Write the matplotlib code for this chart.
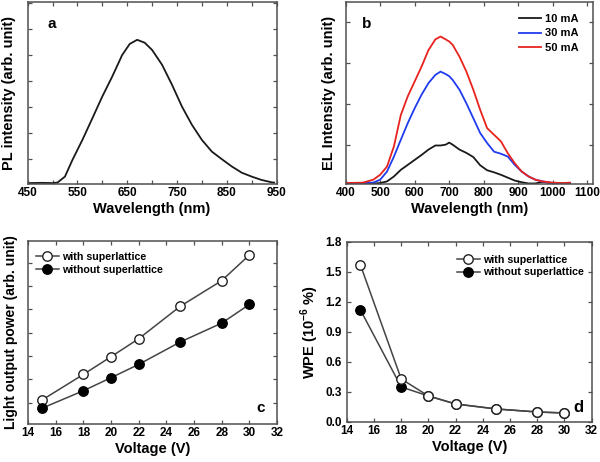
"""Four-panel figure: PL / EL spectra and light output / WPE vs voltage."""

import matplotlib.pyplot as plt
from matplotlib.ticker import MultipleLocator

plt.rcParams["font.family"] = ["Liberation Sans", "DejaVu Sans"]
plt.rcParams["font.weight"] = "bold"
plt.rcParams["axes.labelweight"] = "bold"
plt.rcParams["mathtext.fontset"] = "custom"
plt.rcParams["mathtext.bf"] = "Liberation Sans:bold"
plt.rcParams["mathtext.rm"] = "Liberation Sans:bold"

# panel a: PL spectrum
pl_wl = [450, 480, 500, 510, 525, 540, 560, 580, 600, 620, 640, 655, 670,
         685, 700, 720, 740, 760, 780, 800, 820, 840, 860, 880, 900, 920, 940, 945]
pl_int = [0.07, 0.08, 0.07, 0.09, 0.32, 0.96, 1.73, 2.56, 3.40, 4.17, 5.00, 5.42, 5.58,
          5.47, 5.19, 4.62, 3.85, 3.01, 2.31, 1.73, 1.28, 0.99, 0.71, 0.47, 0.32, 0.19, 0.10, 0.09]

# panel b: EL spectra at three currents
el_wl = [400, 450, 480, 500, 520, 540, 560, 580, 600, 620, 640, 660, 675, 690, 700,
         710, 730, 750, 770, 790, 810, 830, 850, 870, 890, 910, 930, 950, 970, 1000, 1030, 1050]
el_10 = [0.08, 0.08, 0.08, 0.09, 0.13, 0.25, 0.41, 0.53, 0.65, 0.77, 0.90, 1.00, 1.00, 1.02, 1.07,
         1.02, 0.90, 0.82, 0.72, 0.52, 0.40, 0.35, 0.29, 0.22, 0.15, 0.11, 0.08, 0.08, 0.12, 0.08, 0.08, 0.08]
el_30 = [0.08, 0.09, 0.10, 0.17, 0.37, 0.73, 1.14, 1.54, 1.90, 2.23, 2.51, 2.71, 2.79, 2.73, 2.68,
         2.59, 2.35, 2.02, 1.66, 1.30, 1.06, 0.85, 0.80, 0.73, 0.53, 0.37, 0.25, 0.17, 0.13, 0.09, 0.08, 0.09]
el_50 = [0.09, 0.10, 0.17, 0.29, 0.49, 0.98, 1.74, 2.19, 2.55, 2.91, 3.31, 3.57, 3.64, 3.57, 3.52,
         3.44, 3.15, 2.79, 2.35, 1.86, 1.42, 1.26, 1.10, 0.81, 0.57, 0.37, 0.25, 0.17, 0.13, 0.10, 0.09, 0.10]
el_labels = ["10 mA", "30 mA", "50 mA"]
el_colors = ["#1a1a1a", "#1f3cf0", "#e8231e"]

# panels c and d: vs voltage
voltage = [15, 18, 20, 22, 25, 28, 30]
power_with = [1.11, 2.21, 2.97, 3.74, 5.13, 6.23, 7.33]
power_without = [0.76, 1.51, 2.07, 2.64, 3.60, 4.41, 5.21]
wpe_with = [1.57, 0.43, 0.26, 0.18, 0.13, 0.10, 0.09]
wpe_without = [1.12, 0.35, 0.26, 0.18, 0.13, 0.10, 0.09]
series_labels = ["with superlattice", "without superlattice"]

TICK_FS = 8.5
LABEL_FS = 10.5
FRAME = "#505050"


def style_axes(ax):
    for spine in ax.spines.values():
        spine.set_color(FRAME)
        spine.set_linewidth(1.1)
    ax.tick_params(which="both", direction="in", top=True, right=True,
                   length=3, width=0.9, color=FRAME, labelsize=TICK_FS, pad=2)


fig = plt.figure(figsize=(6, 4.62), dpi=100)

# a
ax = fig.add_axes([0.046, 0.602, 0.415, 0.394])
ax.plot(pl_wl, pl_int, "-", color="#1a1a1a", lw=1.3)
ax.set_xlim(450, 950)
ax.set_ylim(0.04, 7.04)
ax.set_xticks(range(450, 951, 100))
ax.xaxis.set_minor_locator(MultipleLocator(50))
ax.yaxis.set_major_locator(MultipleLocator(1))
ax.set_yticklabels([])
style_axes(ax)
ax.set_xlabel("Wavelength (nm)", fontsize=LABEL_FS, labelpad=2.5)
ax.set_ylabel("PL intensity (arb. unit)", fontsize=LABEL_FS, labelpad=6)
ax.text(0.098, 0.88, "a", transform=ax.transAxes, fontsize=11,
        ha="center", va="center")

# b
ax = fig.add_axes([0.576, 0.602, 0.4125, 0.394])
for ys, lab, col in zip([el_10, el_30, el_50], el_labels, el_colors):
    ax.plot(el_wl, ys, "-", color=col, lw=1.3, label=lab)
ax.set_xlim(400, 1117)
ax.set_ylim(0.07, 4.48)
ax.xaxis.set_major_locator(MultipleLocator(100))
ax.yaxis.set_major_locator(MultipleLocator(1))
ax.set_yticklabels([])
style_axes(ax)
ax.set_xlabel("Wavelength (nm)", fontsize=LABEL_FS, labelpad=2.5)
ax.set_ylabel("EL Intensity (arb. unit)", fontsize=LABEL_FS, labelpad=5)
ax.text(0.086, 0.88, "b", transform=ax.transAxes, fontsize=11,
        ha="center", va="center")
ax.legend(loc="upper right", bbox_to_anchor=(0.97, 0.97), frameon=False,
          fontsize=8, handlelength=2.0, handletextpad=0.4, labelspacing=0.4,
          borderaxespad=0.2)

# c
ax = fig.add_axes([0.0467, 0.0823, 0.415, 0.396])
ax.plot(voltage, power_with, "-o", color="#444444", lw=1.1, ms=6.8,
        mfc="white", mec="#222222", mew=1.0, label=series_labels[0])
ax.plot(voltage, power_without, "-o", color="#444444", lw=1.1, ms=6.8,
        mfc="black", mec="black", mew=1.0, label=series_labels[1])
ax.set_xlim(14, 32)
ax.set_ylim(0.086, 7.93)
ax.xaxis.set_major_locator(MultipleLocator(2))
ax.yaxis.set_major_locator(MultipleLocator(1))
ax.set_yticklabels([])
style_axes(ax)
ax.set_xlabel("Voltage (V)", fontsize=LABEL_FS, labelpad=2)
ax.set_ylabel("Light output power (arb. unit)", fontsize=LABEL_FS - 0.5, labelpad=5)
ax.text(0.936, 0.087, "c", transform=ax.transAxes, fontsize=11,
        ha="center", va="center")
ax.legend(loc="upper left", bbox_to_anchor=(0.0, 0.98), frameon=False,
          fontsize=7.7, handlelength=2.2, handletextpad=0.3, labelspacing=0.25,
          borderaxespad=0.3)

# d
ax = fig.add_axes([0.578, 0.0866, 0.408, 0.39])
ax.plot(voltage, wpe_without, "-o", color="#444444", lw=1.1, ms=6.8,
        mfc="black", mec="black", mew=1.0, label=series_labels[1], zorder=2)
ax.plot(voltage, wpe_with, "-o", color="#444444", lw=1.1, ms=6.8,
        mfc="white", mec="#222222", mew=1.0, label=series_labels[0], zorder=3)
ax.set_xlim(14, 32)
ax.set_ylim(0, 1.8)
ax.xaxis.set_major_locator(MultipleLocator(2))
ax.yaxis.set_major_locator(MultipleLocator(0.3))
ax.yaxis.set_major_formatter(plt.FormatStrFormatter("%.1f"))
style_axes(ax)
ax.tick_params(axis="y", pad=3.5)
ax.set_xlabel("Voltage (V)", fontsize=LABEL_FS, labelpad=2)
ax.set_ylabel(r"WPE (10$^{\mathbf{-6}}$ %)", fontsize=LABEL_FS, labelpad=3)
ax.text(0.947, 0.083, "d", transform=ax.transAxes, fontsize=12,
        ha="center", va="center")
handles, labels = ax.get_legend_handles_labels()
ax.legend(handles[::-1], labels[::-1], loc="upper right",
          bbox_to_anchor=(1.0, 0.97), frameon=False,
          fontsize=7.7, handlelength=2.2, handletextpad=0.3, labelspacing=0.25,
          borderaxespad=0.3)

plt.savefig("out.png", dpi=100)
plt.close()
